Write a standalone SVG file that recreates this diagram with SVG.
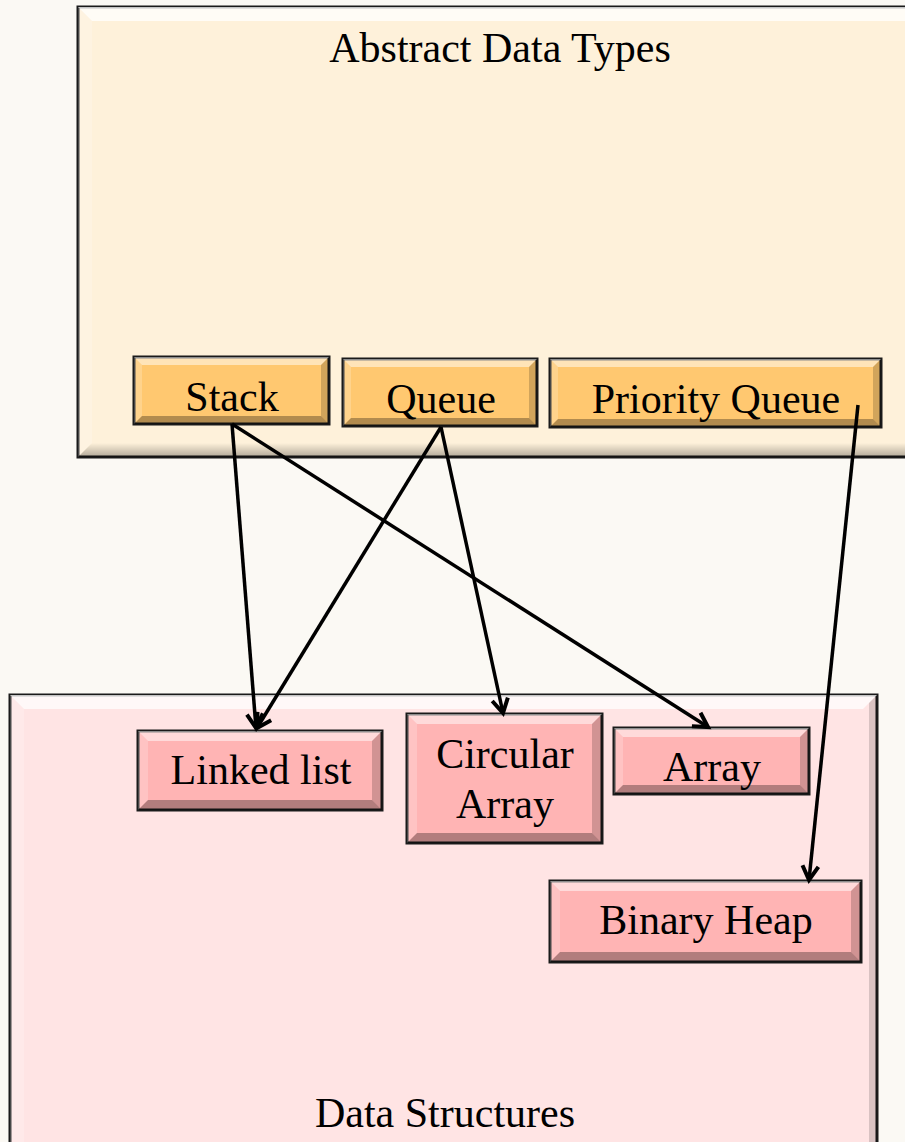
<svg xmlns="http://www.w3.org/2000/svg" width="905" height="1142" viewBox="0 0 905 1142">
<style>
text{font-family:"Liberation Serif","Times New Roman",serif;font-size:42px;fill:#000;text-anchor:middle}
.frame{stroke:#1a1a1a;stroke-width:3}
.adt{fill:#FFC870}
.ds{fill:#FFB4B4}
.hl{fill:#fff;opacity:.5}
.hl2{fill:#fff;opacity:.2}
.sh{fill:#000;opacity:.18}
.sh2{fill:#000;opacity:.3}
.conn{stroke:#000;stroke-width:3.5;fill:none;marker-end:url(#ah)}
</style>
<defs>
<marker id="ah" markerUnits="userSpaceOnUse" markerWidth="30" markerHeight="30" viewBox="-20 -15 30 30" refX="0" refY="0" orient="auto">
<path d="M-14,-8 L0,0 L-14,8" fill="none" stroke="#000" stroke-width="4" stroke-linejoin="miter"/>
</marker>
<linearGradient id="botshade" x1="0" y1="0" x2="0" y2="1">
<stop offset="0" stop-color="#000" stop-opacity="0"/>
<stop offset="1" stop-color="#000" stop-opacity=".3"/>
</linearGradient>
</defs>
<rect width="905" height="1142" fill="#FBF9F4"/>

<g id="adt-container">
<rect class="frame" x="78" y="7" width="850" height="450" fill="#FEF1DA"/>
<polygon class="hl" points="78,7 928,7 916,21 92,21" style="opacity:.75"/>
<polygon class="hl2" points="78,7 92,21 92,443 78,457"/>
<polygon points="78,457 92,443 916,443 928,457" fill="url(#botshade)"/>
<text x="500" y="62">Abstract Data Types</text>
</g>

<g id="ds-container">
<rect class="frame" x="10" y="695" width="867" height="470" fill="#FFE4E4"/>
<polygon class="hl" points="10,695 877,695 863,709 24,709" style="opacity:.75"/>
<polygon class="hl2" points="10,695 24,709 24,1165 10,1165"/>
<polygon points="877,695 877,1165 869,1165 869,703" fill="#000" opacity=".15"/>
<text x="445" y="1127">Data Structures</text>
</g>

<g id="stack">
<rect class="adt frame" x="134" y="357" width="195" height="67"/>
<polygon class="hl" points="134,357 329,357 321,365 142,365"/>
<polygon class="hl2" points="134,357 142,365 142,416 134,424"/>
<polygon class="sh" points="329,357 329,424 321,416 321,365"/>
<polygon class="sh2" points="134,424 142,416 321,416 329,424"/>
<text x="232" y="411">Stack</text>
</g>

<g id="queue">
<rect class="adt frame" x="343" y="359" width="194" height="67"/>
<polygon class="hl" points="343,359 537,359 529,367 351,367"/>
<polygon class="hl2" points="343,359 351,367 351,418 343,426"/>
<polygon class="sh" points="537,359 537,426 529,418 529,367"/>
<polygon class="sh2" points="343,426 351,418 529,418 537,426"/>
<text x="441" y="413">Queue</text>
</g>

<g id="priority-queue">
<rect class="adt frame" x="550" y="359" width="331" height="68"/>
<polygon class="hl" points="550,359 881,359 873,367 558,367"/>
<polygon class="hl2" points="550,359 558,367 558,419 550,427"/>
<polygon class="sh" points="881,359 881,427 873,419 873,367"/>
<polygon class="sh2" points="550,427 558,419 873,419 881,427"/>
<text x="716" y="413">Priority Queue</text>
</g>

<g id="linked-list">
<rect class="ds frame" x="138" y="731" width="244" height="79"/>
<polygon class="hl" points="138,731 382,731 372,741 148,741"/>
<polygon class="hl2" points="138,731 148,741 148,800 138,810"/>
<polygon class="sh" points="382,731 382,810 372,800 372,741"/>
<polygon class="sh2" points="138,810 148,800 372,800 382,810"/>
<text x="261" y="784">Linked list</text>
</g>

<g id="circular-array">
<rect class="ds frame" x="407" y="714" width="195" height="129"/>
<polygon class="hl" points="407,714 602,714 592,724 417,724"/>
<polygon class="hl2" points="407,714 417,724 417,833 407,843"/>
<polygon class="sh" points="602,714 602,843 592,833 592,724"/>
<polygon class="sh2" points="407,843 417,833 592,833 602,843"/>
<text x="505" y="768">Circular</text>
<text x="505" y="818">Array</text>
</g>

<g id="array">
<rect class="ds frame" x="614" y="728" width="195" height="66"/>
<polygon class="hl" points="614,728 809,728 800,737 623,737"/>
<polygon class="hl2" points="614,728 623,737 623,785 614,794"/>
<polygon class="sh" points="809,728 809,794 800,785 800,737"/>
<polygon class="sh2" points="614,794 623,785 800,785 809,794"/>
<text x="712" y="781">Array</text>
</g>

<g id="binary-heap">
<rect class="ds frame" x="550" y="881" width="311" height="81"/>
<polygon class="hl" points="550,881 861,881 851,891 560,891"/>
<polygon class="hl2" points="550,881 560,891 560,952 550,962"/>
<polygon class="sh" points="861,881 861,962 851,952 851,891"/>
<polygon class="sh2" points="550,962 560,952 851,952 861,962"/>
<text x="706" y="934">Binary Heap</text>
</g>

<g id="connectors">
<line class="conn" x1="232" y1="424" x2="256" y2="728"/>
<line class="conn" x1="232" y1="424" x2="708" y2="727"/>
<line class="conn" x1="441" y1="427" x2="257" y2="728"/>
<line class="conn" x1="441" y1="427" x2="503" y2="713"/>
<line class="conn" x1="858" y1="405" x2="809" y2="880"/>
</g>
</svg>
